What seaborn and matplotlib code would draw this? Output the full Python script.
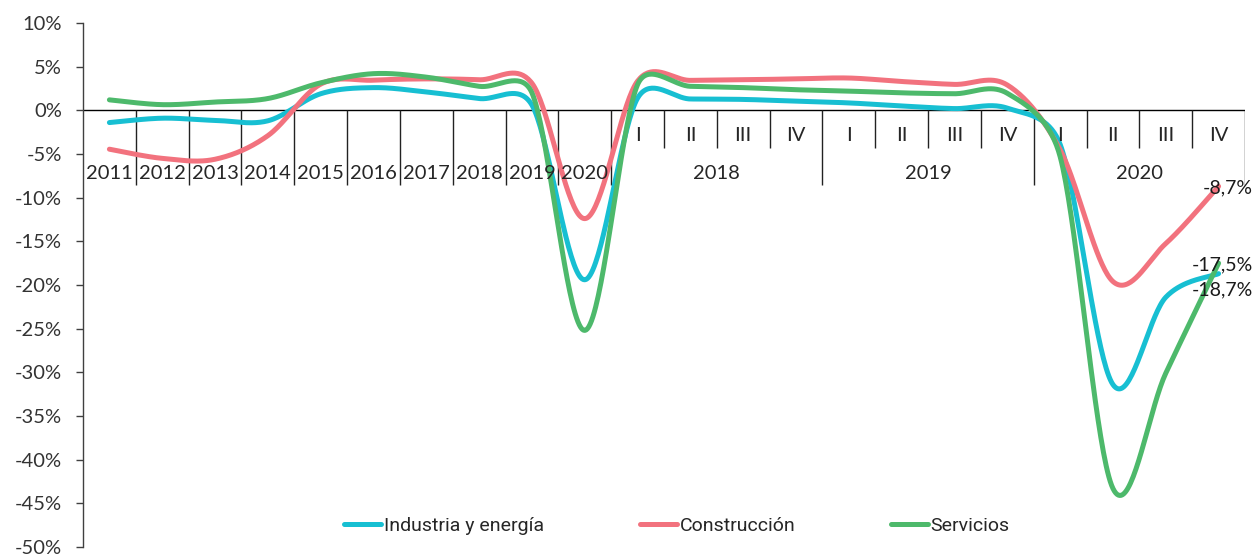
import numpy as np
import pandas as pd
import matplotlib
matplotlib.use("Agg")
import matplotlib.pyplot as plt
import seaborn as sns
from matplotlib.lines import Line2D

# ---------------- data ----------------
annual_years = ["2011", "2012", "2013", "2014", "2015", "2016", "2017", "2018", "2019", "2020"]
quarter_labels = ["I", "II", "III", "IV"] * 3
quarter_years = ["2018", "2019", "2020"]

series_names = ["Industria y energía", "Construcción", "Servicios"]

# annual 2011-2020 followed by quarters 2018 I .. 2020 IV (% y/y)
industria = [-1.4, -0.9, -1.15, -1.2, 1.9, 2.6, 2.1, 1.35, 0.6, -19.4,
             1.4, 1.3, 1.25, 1.05, 0.85, 0.5, 0.2, 0.25, -3.9, -31.4, -21.4, -18.7]
construccion = [-4.45, -5.5, -5.6, -2.9, 3.0, 3.45, 3.6, 3.5, 3.1, -12.4,
                3.35, 3.43, 3.5, 3.6, 3.7, 3.3, 2.97, 2.9, -4.5, -19.6, -15.25, -8.7]
servicios = [1.2, 0.65, 0.95, 1.35, 3.15, 4.2, 3.8, 2.75, 2.0, -25.2,
             2.95, 2.75, 2.6, 2.36, 2.2, 2.0, 1.9, 1.95, -5.3, -43.3, -30.1, -17.5]

end_labels = ["-18,7%", "-8,7%", "-17,5%"]
colors = ["#17BFD2", "#F2727E", "#4DB96B"]

# ---------------- style ----------------
sns.set_theme(style="white")
plt.rcParams["font.family"] = ["Lato", "DejaVu Sans"]

W, H = 1257, 556
fig = plt.figure(figsize=(W / 100, H / 100), dpi=100)
fig.patch.set_facecolor("white")
AX_L, AX_R, AX_T, AX_B = 83, 1245, 23, 547
ax = fig.add_axes([AX_L / W, (H - AX_B) / H, (AX_R - AX_L) / W, (AX_B - AX_T) / H])

n_cat = len(annual_years) + len(quarter_labels)
ax.set_xlim(-0.5, n_cat - 0.5)
ax.set_ylim(-50, 10)

# pixel scales (for Excel-like smoothing in screen space)
sx = (AX_R - AX_L) / n_cat
sy = (AX_B - AX_T) / 60.0


def excel_smooth(xv, yv, npts=40):
    P = np.column_stack([np.asarray(xv, float) * sx, np.asarray(yv, float) * sy])
    m = len(P)
    pts = [P[0]]
    for i in range(m - 1):
        p0 = P[i - 1] if i > 0 else P[i]
        p1, p2 = P[i], P[i + 1]
        p3 = P[i + 2] if i + 2 < m else P[i + 1]
        seg = np.linalg.norm(p2 - p1)
        t1 = (p2 - p0) / 6.0
        t2 = (p3 - p1) / 6.0
        for t in (t1, t2):
            nt = np.linalg.norm(t)
            if nt > seg / 2 and nt > 0:
                t *= (seg / 2) / nt
        c1 = p1 + t1
        c2 = p2 - t2
        for s in np.linspace(0, 1, npts)[1:]:
            b = ((1 - s) ** 3) * p1 + 3 * ((1 - s) ** 2) * s * c1 + 3 * (1 - s) * s ** 2 * c2 + s ** 3 * p2
            pts.append(b)
    pts = np.array(pts)
    return pts[:, 0] / sx, pts[:, 1] / sy


xcat = np.arange(n_cat)
frames = []
for name, vals in zip(series_names, [industria, construccion, servicios]):
    xs, ys = excel_smooth(xcat, vals)
    frames.append(pd.DataFrame({"x": xs, "y": ys, "serie": name, "ord": np.arange(len(xs))}))
df = pd.concat(frames, ignore_index=True)

palette = dict(zip(series_names, colors))
sns.lineplot(data=df, x="x", y="y", hue="serie", palette=palette, sort=False,
             estimator=None, linewidth=3.6, legend=False, ax=ax,
             solid_capstyle="round")

# ---------------- axes ----------------
for s in ["top", "right", "bottom"]:
    ax.spines[s].set_visible(False)
ax.spines["left"].set_color("#404040")
ax.spines["left"].set_linewidth(1.0)

yt = list(range(-50, 11, 5))
ax.set_yticks(yt)
ax.set_yticklabels([f"{v}%" for v in yt])
ax.tick_params(axis="y", direction="out", length=5, width=1, color="#404040",
               pad=10, labelsize=14.5, labelcolor="#333333", left=True)
ax.set_xticks([])
ax.set_xlabel("")
ax.set_ylabel("")

# zero line / category axis
ax.plot([-0.5, n_cat - 0.5], [0, 0], color="black", lw=1.0, zorder=1)
long_y = -8.6
short_y = -4.35
n_ann = len(annual_years)
long_pos = [k + 0.5 for k in range(n_ann)] + [n_ann - 0.5 + 4 * (k + 1) for k in range(len(quarter_years))]
short_pos = [n_ann - 0.5 + 4 * k + j for k in range(len(quarter_years)) for j in (1, 2, 3)]
ax.vlines(long_pos, long_y, 0, color="#222222", lw=1.0, zorder=1)
ax.vlines(short_pos, short_y, 0, color="#222222", lw=1.0, zorder=1)

lab_kw = dict(ha="center", va="center", fontsize=14.5, color="#262626")
for i, yr in enumerate(annual_years):
    ax.text(i, -7.2, yr, **lab_kw)
for j, q in enumerate(quarter_labels):
    ax.text(n_ann + j, -2.85, q, **lab_kw)
for k, yr in enumerate(quarter_years):
    ax.text(n_ann + 4 * k + 1.5, -7.2, yr, **lab_kw)

# end labels
offsets = [(34, -16), (34, -2), (34, -2)]
for vals, txt, off in zip([industria, construccion, servicios], end_labels, offsets):
    ax.annotate(txt, xy=(n_cat - 1, vals[-1]), xytext=off, textcoords="offset pixels",
                ha="right", va="center", fontsize=14, color="#1a1a1a",
                annotation_clip=False)

# legend
handles = [Line2D([0], [0], color=c, lw=3.6, solid_capstyle="round") for c in colors]
fig.legend(handles, series_names, loc="center", bbox_to_anchor=(677 / W, 30 / H),
           ncol=3, frameon=False, handlelength=1.9, handletextpad=0.15,
           columnspacing=4.9, prop={"family": ["Roboto", "DejaVu Sans"], "size": 14},
           labelcolor="#262626")

fig.savefig("out.png", dpi=100, facecolor="white")
